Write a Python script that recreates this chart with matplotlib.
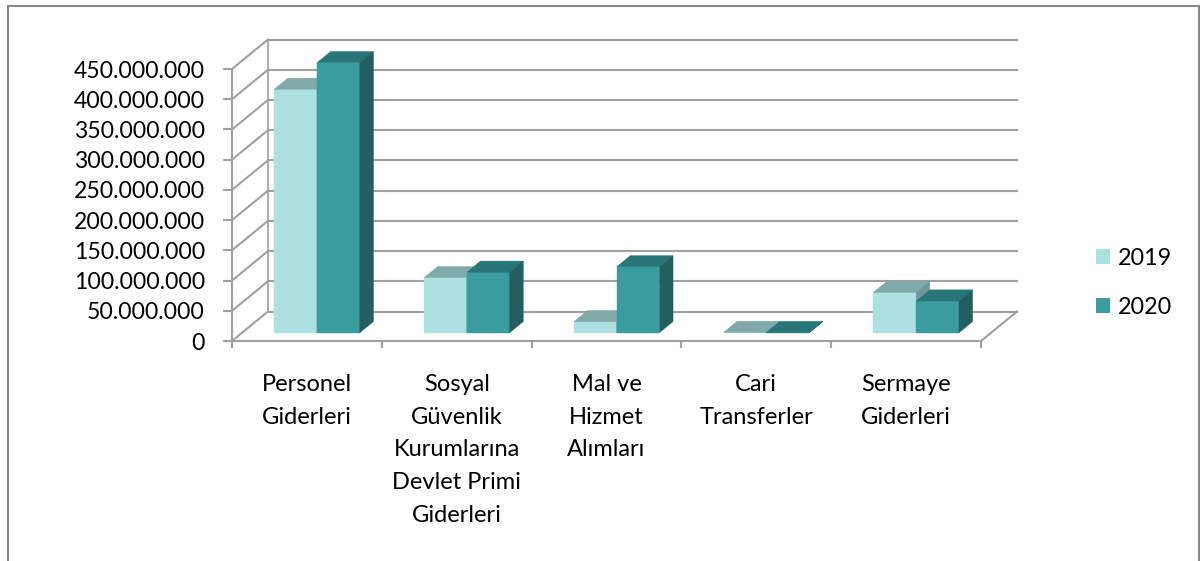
import matplotlib
matplotlib.use("Agg")
import matplotlib.pyplot as plt
from matplotlib.patches import Polygon, Rectangle, Patch

plt.rcParams["font.family"] = ["Lato", "DejaVu Sans"]

# veriler
categories = [
    "Personel\nGiderleri",
    "Sosyal\nGüvenlik\nKurumlarına\nDevlet Primi\nGiderleri",
    "Mal ve\nHizmet\nAlımları",
    "Cari\nTransferler",
    "Sermaye\nGiderleri",
]
values_2019 = [402_700_000, 91_000_000, 18_200_000, 600_000, 66_800_000]
values_2020 = [446_700_000, 100_000_000, 109_000_000, 400_000, 52_400_000]
series_labels = ["2019", "2020"]
y_ticks = list(range(0, 450_000_001, 50_000_000))

# renkler: (on, ust, yan)
colors = [
    ("#ADE0E1", "#80AAAA", "#6F9797"),
    ("#3A9C9E", "#287678", "#235F61"),
]
grid_color = "#A0A0A0"

W, H = 1200, 561
fig = plt.figure(figsize=(W / 100, H / 100), dpi=100)
# eksen alanı: on zemin x 232..981, y 341 (0) .. 69 (450M)
ax = fig.add_axes([232 / W, (H - 341) / H, 749 / W, 272 / H])
n = len(categories)
ymax = y_ticks[-1]
ax.set_xlim(0, n)
ax.set_ylim(0, ymax)

# derinlik kayması (eğik izdüşüm)
DX = 36 / 749 * n
DY = 29.5 / 272 * ymax


def proj(x, v, d):
    return (x + d * DX, v + d * DY)


# arka duvar ve yan duvar çizgileri
for v in y_ticks:
    ax.plot([DX, n + DX], [v + DY, v + DY], color=grid_color, lw=1.5,
            clip_on=False, zorder=1)
    ax.plot([0, DX], [v, v + DY], color=grid_color, lw=1.5,
            clip_on=False, zorder=1)
ax.plot([DX, DX], [DY, ymax + DY], color=grid_color, lw=1.2, clip_on=False, zorder=1)
ax.plot([n, n + DX], [0, DY], color=grid_color, lw=1.5, clip_on=False, zorder=1)

# çubuklar
w = 1 / 3.5
f0, f1 = 0.28, 0.66
for i in range(n):
    for s, vals in enumerate([values_2019, values_2020]):
        v = vals[i]
        x0 = i + 0.75 * w + s * w
        x1 = x0 + w
        front, top, side = colors[s]
        faces = [
            ([proj(x0, 0, f0), proj(x1, 0, f0), proj(x1, v, f0), proj(x0, v, f0)], front),
            ([proj(x0, v, f0), proj(x1, v, f0), proj(x1, v, f1), proj(x0, v, f1)], top),
            ([proj(x1, 0, f0), proj(x1, 0, f1), proj(x1, v, f1), proj(x1, v, f0)], side),
        ]
        for pts, c in faces:
            ax.add_patch(Polygon(pts, closed=True, facecolor=c, edgecolor=c,
                                 lw=0.3, clip_on=False, zorder=3))

# eksenler
for sp in ["top", "right"]:
    ax.spines[sp].set_visible(False)
for sp in ["left", "bottom"]:
    ax.spines[sp].set_color(grid_color)
    ax.spines[sp].set_linewidth(1.5)
ax.set_yticks(y_ticks)
ax.set_yticklabels([f"{t:,}".replace(",", ".") for t in y_ticks])
ax.tick_params(axis="y", length=6.5, width=1.5, color=grid_color, pad=13,
               labelsize=16.6)
ax.set_xticks(range(n + 1))
ax.set_xticklabels([])
ax.tick_params(axis="x", which="major", length=5, width=1.5, color=grid_color)
ax.set_xticks([i + 0.5 for i in range(n)], minor=True)
ax.set_xticklabels(categories, minor=True, fontsize=17, linespacing=1.68)
ax.tick_params(axis="x", which="minor", length=0, pad=24)
ax.patch.set_alpha(0)

# lejant
handles = [Patch(facecolor=colors[k][0], edgecolor="none") for k in range(2)]
fig.legend(handles, series_labels, loc="center left",
           bbox_to_anchor=(1075 / W, 1 - 283 / H), frameon=False,
           fontsize=16.8, handlelength=0.62, handleheight=0.62,
           handletextpad=0.3, labelspacing=1.2)

# dış çerçeve
fig.add_artist(Rectangle((7.5 / W, -0.01), (1198.5 - 7.5) / W, (H - 5.5) / H + 0.01,
                         transform=fig.transFigure, fill=False,
                         edgecolor="#898989", lw=1.5))

fig.savefig("out.png", dpi=100)
